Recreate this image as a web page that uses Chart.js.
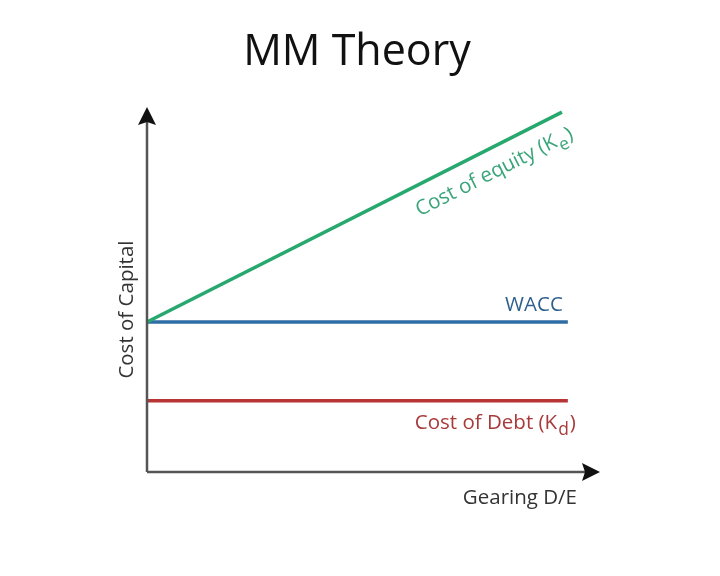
<!DOCTYPE html>
<html>
<head>
<meta charset="utf-8">
<script src="https://cdn.jsdelivr.net/npm/chart.js@4/dist/chart.umd.min.js"></script>
<style>
  html, body { margin: 0; padding: 0; background: #fff; }
  #wrap { width: 720px; height: 576px; }
</style>
</head>
<body>
<div id="wrap"><canvas id="mm-chart" width="720" height="576"></canvas></div>
<script>
// gearing (x) and cost of capital (y), arbitrary units 0..10
const keX = [0, 9.16];
const keY = [4.11, 9.86];
const waccX = [0, 9.29];
const waccY = [4.11, 4.11];
const kdX = [0, 9.29];
const kdY = [1.95, 1.95];

const toPoints = (xs, ys) => xs.map((x, i) => ({ x, y: ys[i] }));

const FONT = '"Open Sans", "Noto Sans", sans-serif';
const LABEL = 20.5;

// draws "main" + subscript + tail starting at x, baseline middle
function drawSubText(ctx, x, y, main, sub, tail, size, color) {
  ctx.fillStyle = color;
  ctx.textBaseline = 'middle';
  ctx.textAlign = 'left';
  ctx.font = `${size}px ${FONT}`;
  const w1 = ctx.measureText(main).width;
  ctx.fillText(main, x, y);
  ctx.font = `${size * 0.85}px ${FONT}`;
  const w2 = ctx.measureText(sub).width;
  ctx.fillText(sub, x + w1 + 1, y + size * 0.35);
  ctx.font = `${size}px ${FONT}`;
  ctx.fillText(tail, x + w1 + w2 + 2, y);
}
function subTextWidth(ctx, main, sub, tail, size) {
  ctx.font = `${size}px ${FONT}`;
  let w = ctx.measureText(main).width + ctx.measureText(tail).width;
  ctx.font = `${size * 0.85}px ${FONT}`;
  return w + ctx.measureText(sub).width + 2;
}

const annotations = {
  id: 'annotations',
  afterDatasetsDraw(chart) {
    const { ctx, chartArea, scales } = chart;
    const xs = scales.x, ys = scales.y;
    const left = chartArea.left, bottom = chartArea.bottom;
    ctx.save();

    // title
    ctx.fillStyle = '#111';
    ctx.font = `43px ${FONT}`;
    ctx.textAlign = 'center';
    ctx.textBaseline = 'middle';
    ctx.fillText('MM Theory', 357, 53);

    // axes
    ctx.strokeStyle = '#555';
    ctx.lineWidth = 2.5;
    ctx.beginPath();
    ctx.moveTo(left, bottom);
    ctx.lineTo(left, chartArea.top + 14);
    ctx.moveTo(left, bottom);
    ctx.lineTo(chartArea.right - 14, bottom);
    ctx.stroke();
    ctx.fillStyle = '#111';
    ctx.beginPath();
    ctx.moveTo(left, chartArea.top);
    ctx.lineTo(left - 9, chartArea.top + 18);
    ctx.lineTo(left, chartArea.top + 15);
    ctx.lineTo(left + 9, chartArea.top + 18);
    ctx.closePath();
    ctx.fill();
    ctx.beginPath();
    ctx.moveTo(chartArea.right, bottom);
    ctx.lineTo(chartArea.right - 18, bottom - 9);
    ctx.lineTo(chartArea.right - 15, bottom);
    ctx.lineTo(chartArea.right - 18, bottom + 9);
    ctx.closePath();
    ctx.fill();

    // axis titles
    ctx.fillStyle = '#333';
    ctx.font = `${LABEL}px ${FONT}`;
    ctx.textBaseline = 'middle';
    ctx.textAlign = 'right';
    ctx.fillText('Gearing D/E', chartArea.right - 23, bottom + 26);
    ctx.save();
    ctx.translate(left - 20, ys.getPixelForValue(4.45));
    ctx.rotate(-Math.PI / 2);
    ctx.textAlign = 'center';
    ctx.fillText('Cost of Capital', 0, 0);
    ctx.restore();

    // WACC label
    ctx.fillStyle = '#2f5f8f';
    ctx.textAlign = 'right';
    ctx.fillText('WACC', xs.getPixelForValue(waccX[1]) - 5, ys.getPixelForValue(waccY[1]) - 17);

    // Cost of debt label
    const kdW = subTextWidth(ctx, 'Cost of Debt (K', 'd', ')', LABEL);
    drawSubText(ctx, xs.getPixelForValue(kdX[1]) + 8 - kdW, ys.getPixelForValue(kdY[1]) + 22,
      'Cost of Debt (K', 'd', ')', LABEL, '#a83a3a');

    // Cost of equity label along the line
    const x0 = xs.getPixelForValue(keX[0]), y0 = ys.getPixelForValue(keY[0]);
    const x1 = xs.getPixelForValue(keX[1]), y1 = ys.getPixelForValue(keY[1]);
    const ang = Math.atan2(y1 - y0, x1 - x0);
    const cx = 484, cy = y0 + (484 - x0) * (y1 - y0) / (x1 - x0);
    const keW = subTextWidth(ctx, 'Cost of equity (K', 'e', ')', LABEL);
    ctx.save();
    ctx.translate(cx, cy);
    ctx.rotate(ang);
    drawSubText(ctx, -keW / 2, 23, 'Cost of equity (K', 'e', ')', LABEL, '#3aa57a');
    ctx.restore();

    ctx.restore();
  }
};

new Chart(document.getElementById('mm-chart'), {
  type: 'line',
  data: {
    datasets: [
      { label: 'Cost of equity', data: toPoints(keX, keY), borderColor: '#27a86e', borderWidth: 3.5 },
      { label: 'WACC', data: toPoints(waccX, waccY), borderColor: '#2e6da4', borderWidth: 3.5 },
      { label: 'Cost of Debt', data: toPoints(kdX, kdY), borderColor: '#b83535', borderWidth: 3.5 }
    ]
  },
  options: {
    responsive: false,
    animation: false,
    events: [],
    clip: false,
    layout: { padding: { left: 147, right: 120, top: 107, bottom: 104 } },
    elements: { point: { radius: 0 }, line: { tension: 0, borderCapStyle: 'butt' } },
    scales: {
      x: { type: 'linear', min: 0, max: 10, display: false },
      y: { type: 'linear', min: 0, max: 10, display: false }
    },
    plugins: {
      legend: { display: false },
      tooltip: { enabled: false },
      title: { display: false }
    }
  },
  plugins: [annotations]
});
</script>
</body>
</html>
